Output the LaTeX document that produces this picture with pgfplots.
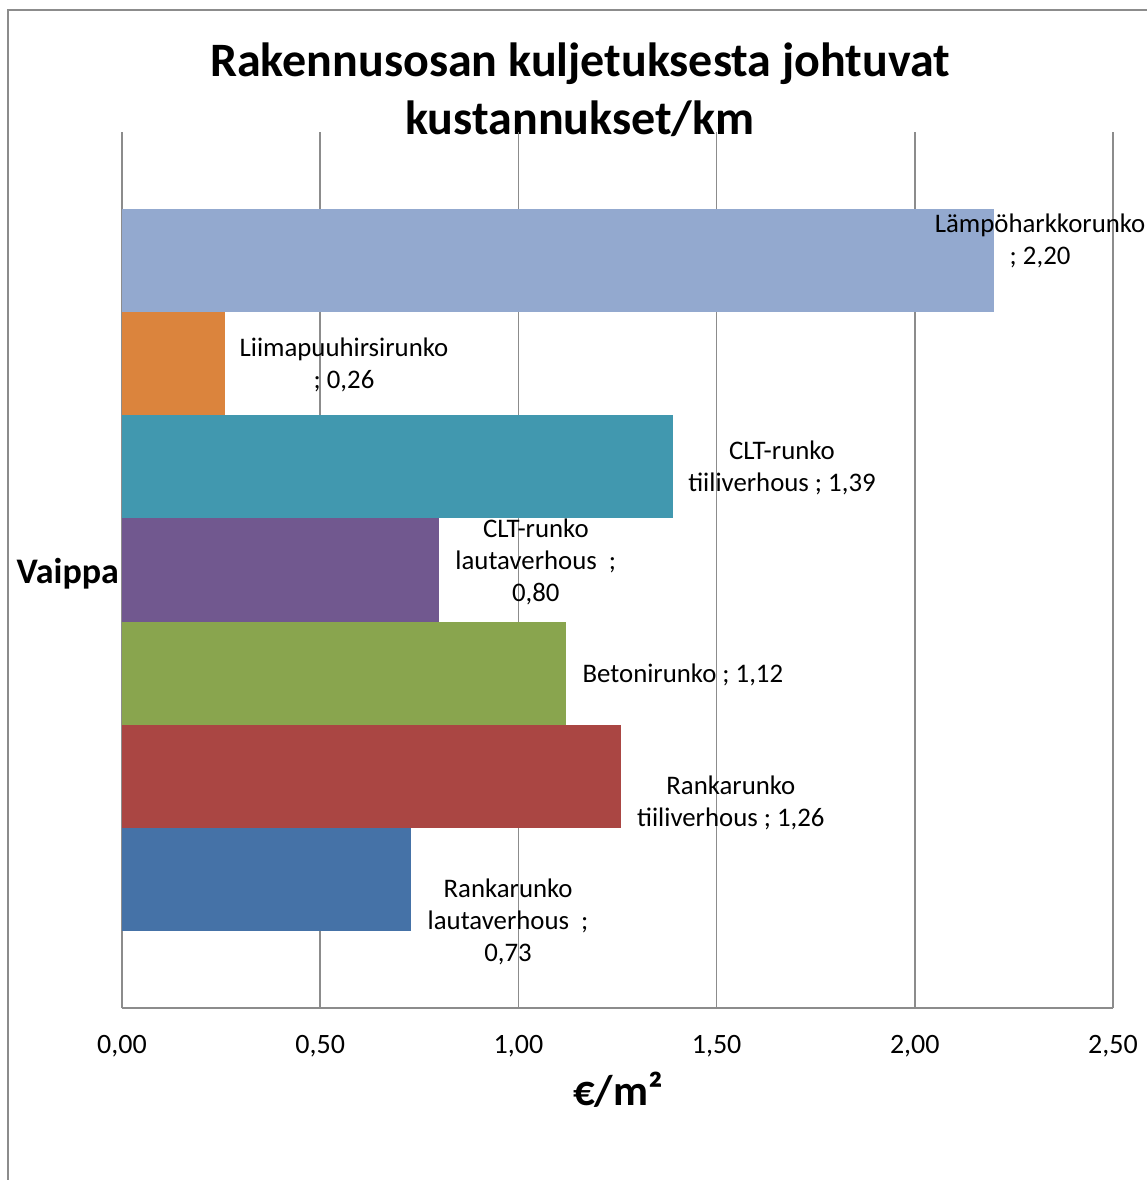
\documentclass[border=0pt]{standalone}
\usepackage{fontspec}
\setmainfont{Carlito}
\usepackage{pgfplots}
\pgfplotsset{compat=1.18}

\definecolor{gridc}{HTML}{8C8C8C}
\definecolor{cA}{HTML}{4572A7}
\definecolor{cB}{HTML}{AA4643}
\definecolor{cC}{HTML}{89A54E}
\definecolor{cD}{HTML}{71588F}
\definecolor{cE}{HTML}{4198AF}
\definecolor{cF}{HTML}{DB843D}
\definecolor{cG}{HTML}{93A9CF}

\newcommand{\lbl}{\fontsize{13.4}{16}\selectfont}

\begin{document}
\begin{tikzpicture}
\useasboundingbox (0,0) rectangle (573.5pt,590pt);
% chart frame (only left and top edges are inside the picture)
\draw[gridc, line width=0.75pt] (4pt,0) -- (4pt,585pt) -- (580pt,585pt);

% title
\node[anchor=base, font=\fontsize{24}{29}\selectfont\bfseries] at (290pt,551.5pt) {Rakennusosan kuljetuksesta johtuvat};
\node[anchor=base, font=\fontsize{24}{29}\selectfont\bfseries] at (290pt,522.5pt) {kustannukset/km};

\begin{axis}[
    at={(61pt,86pt)}, anchor=south west,
    scale only axis,
    width=495.5pt, height=438pt,
    xmin=0, xmax=2.5,
    ymin=-0.25, ymax=8.25,
    xtick={0,0.5,1,1.5,2,2.5},
    ytick={4}, yticklabels={Vaippa},
    axis x line*=bottom, axis y line*=left,
    axis line style={gridc, line width=0.75pt},
    xmajorgrids,
    major grid style={gridc, line width=0.75pt},
    major tick length=0pt,
    clip=false,
    /pgf/number format/assume math mode=true,
    xticklabel style={font=\fontsize{14}{16}\selectfont, yshift=-10pt,
      /pgf/number format/.cd, fixed, fixed zerofill, precision=2, use comma},
    yticklabel style={font=\fontsize{18}{22}\selectfont\bfseries, xshift=2pt, yshift=-2pt},
]
% bars, bottom to top
\addplot[xbar, bar width=1, bar shift=0pt, fill=cA, draw=none] coordinates {(0.73,1)};
\addplot[xbar, bar width=1, bar shift=0pt, fill=cB, draw=none] coordinates {(1.26,2)};
\addplot[xbar, bar width=1, bar shift=0pt, fill=cC, draw=none] coordinates {(1.12,3)};
\addplot[xbar, bar width=1, bar shift=0pt, fill=cD, draw=none] coordinates {(0.80,4)};
\addplot[xbar, bar width=1, bar shift=0pt, fill=cE, draw=none] coordinates {(1.39,5)};
\addplot[xbar, bar width=1, bar shift=0pt, fill=cF, draw=none] coordinates {(0.26,6)};
\addplot[xbar, bar width=1, bar shift=0pt, fill=cG, draw=none] coordinates {(2.20,7)};

% data labels
\node[align=center, font=\lbl] at (axis cs:2.316,7.19) {Lämpöharkkorunko\\; 2,20};
\node[align=center, font=\lbl] at (axis cs:0.56,5.99) {Liimapuuhirsirunko\\; 0,26};
\node[align=center, font=\lbl] at (axis cs:1.665,4.99) {CLT-runko\\tiiliverhous ; 1,39};
\node[align=center, font=\lbl] at (axis cs:1.044,4.08) {CLT-runko\\lautaverhous\ \ ;\\0,80};
\node[align=center, font=\lbl] at (axis cs:1.415,2.98) {Betonirunko ; 1,12};
\node[align=center, font=\lbl] at (axis cs:1.536,1.74) {Rankarunko\\tiiliverhous ; 1,26};
\node[align=center, font=\lbl] at (axis cs:0.974,0.59) {Rankarunko\\lautaverhous\ \ ;\\0,73};
\end{axis}

% axis title
\node[anchor=base, font=\fontsize{21.5}{26}\selectfont\bfseries] at (309pt,37.5pt) {€/m²};
\end{tikzpicture}
\end{document}
